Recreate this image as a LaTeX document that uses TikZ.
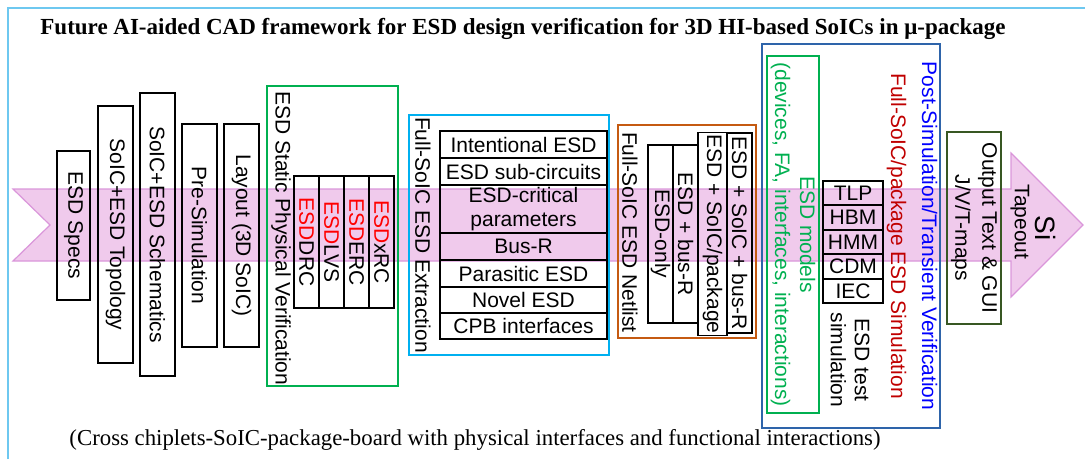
\documentclass[tikz,border=0pt]{standalone}
\usepackage{fontspec}
\setmainfont{Liberation Serif}
\newfontfamily\arialfont{Liberation Sans}
\definecolor{esd_frame}{RGB}{110, 200, 240}
\definecolor{esd_green}{RGB}{0, 176, 80}
\definecolor{esd_cyan}{RGB}{0, 176, 240}
\definecolor{esd_orange}{RGB}{197, 90, 17}
\definecolor{esd_navy}{RGB}{46, 100, 170}
\definecolor{esd_olive}{RGB}{56, 87, 35}
\definecolor{esd_red}{RGB}{255, 0, 0}
\definecolor{esd_dred}{RGB}{192, 0, 0}
\definecolor{esd_blue}{RGB}{0, 0, 255}
\definecolor{esd_pink}{RGB}{240, 202, 236}
\definecolor{esd_pinkline}{RGB}{218, 150, 218}
\usepackage{tikz}
\usetikzlibrary{positioning}

\begin{document}
\begin{tikzpicture}[x=1pt, y=-1pt,
            font=\arialfont\fontsize{21}{24}\selectfont,
            vbox/.style={draw, line width=1.3pt, rotate=-90, inner sep=0pt, align=center},
            hbox/.style={draw, line width=1.3pt, inner sep=0pt, align=center},
            cont/.style={draw, line width=2pt, rotate=-90, inner sep=0pt},
            vtext/.style={rotate=-90, inner sep=0pt, align=center},
            band/.style={fill=esd_pink, draw=esd_pinkline, line width=1.2pt}]
  \useasboundingbox (0,0) rectangle (1085,459);
  \draw[esd_frame, line width=2pt] (8,459) -- (8,8) -- (1085,8);
  \node[font=\rmfamily\bfseries\fontsize{23}{26}\selectfont] (title)
    at (523,29) {Future AI-aided CAD framework for ESD design verification for 3D HI-based SoICs in μ-package};

  % flow band
  \draw[band] (13,189) -- (1011,189) -- (1011,153) -- (1083,225)
    -- (1011,297) -- (1011,261) -- (13,261) -- (50,225) -- cycle;

  % design entry
  \node[vbox, minimum width=149, minimum height=33] (specs) at (73.5,225.5) {ESD Specs};
  \node[vbox, minimum width=257, minimum height=35] (topo) at (115.5,234.5) {SoIC+ESD Topology};
  \node[vbox, minimum width=283, minimum height=35] (schem) at (157.5,234.5) {SoIC+ESD Schematics};
  \node[vbox, minimum width=223, minimum height=35] (presim) at (199.5,235.5) {Pre-Simulation};
  \node[vbox, minimum width=223, minimum height=35] (layout) at (241.5,235.5) {Layout (3D SoIC)};

  % static physical verification
  \node[cont, draw=esd_green, minimum width=300, minimum height=131] (spv) at (332.5,236) {};
  \node[vtext, anchor=west] (spvt) at (281,91) {ESD Static Physical Verification};
  \node[vbox, minimum width=132, minimum height=25] (drc) at (306.5,242) {\textcolor{esd_red}{ESD}DRC};
  \node[vbox, minimum width=132, minimum height=25] (lvs) at (331.5,242) {\textcolor{esd_red}{ESD}LVS};
  \node[vbox, minimum width=132, minimum height=25] (erc) at (356.5,242) {\textcolor{esd_red}{ESD}ERC};
  \node[vbox, minimum width=132, minimum height=25] (xrc) at (381.5,242) {\textcolor{esd_red}{ESD}xRC};

  % extraction
  \node[cont, draw=esd_cyan, minimum width=240, minimum height=200] (ext) at (509,235) {};
  \node[vtext] (extt) at (423,235) {Full-SoIC ESD Extraction};
  \node[hbox, minimum width=167, minimum height=27] (intent) at (523.5,144.5) {Intentional ESD};
  \node[hbox, minimum width=167, minimum height=27] (subckt) at (523.5,171.5) {ESD sub-circuits};
  \node[hbox, minimum width=167, minimum height=48] (crit) at (523.5,209) {ESD-critical\\parameters};
  \node[hbox, minimum width=167, minimum height=27] (busr) at (523.5,246.5) {Bus-R};
  \node[hbox, minimum width=167, minimum height=27] (paras) at (523.5,273.5) {Parasitic ESD};
  \node[hbox, minimum width=167, minimum height=26] (novel) at (523.5,300) {Novel ESD};
  \node[hbox, minimum width=167, minimum height=26] (cpb) at (523.5,326) {CPB interfaces};

  % netlist
  \node[cont, draw=esd_orange, minimum width=213, minimum height=138] (net) at (687,231.5) {};
  \node[vtext] (nett) at (630,232.5) {Full-SoIC ESD Netlist};
  \node[vbox, minimum width=178, minimum height=25] (esdonly) at (660.5,234) {ESD-only};
  \node[vbox, minimum width=178, minimum height=25] (nbusr) at (685.5,234) {ESD + bus-R};
  \node[vbox, minimum width=203, minimum height=29] (soicpkg) at (712.5,234) {ESD + SoIC/package};
  \node[vbox, minimum width=200, minimum height=25] (soicbusr) at (739.5,233) {ESD + SoIC + bus-R};

  % post-simulation
  \node[cont, draw=esd_navy, minimum width=384, minimum height=178] (post) at (851,236) {};
  \node[vbox, draw=esd_green, line width=1.6pt, text=esd_green, minimum width=357, minimum height=52]
    (models) at (793,234.5) {ESD models\\[1pt](devices, FA, interfaces, interactions)};
  \node[vtext] (postt) at (912,236)
    {\textcolor{esd_blue}{Post-Simulation/Transient Verification}\\[7pt]\textcolor{esd_dred}{Full-SoIC/package ESD Simulation}};
  \node[hbox, minimum width=60, minimum height=24] (tlp) at (853,193) {TLP};
  \node[hbox, minimum width=60, minimum height=25] (hbm) at (853,217.5) {HBM};
  \node[hbox, minimum width=60, minimum height=24] (hmm) at (853,242) {HMM};
  \node[hbox, minimum width=60, minimum height=25] (cdm) at (853,266.5) {CDM};
  \node[hbox, minimum width=60, minimum height=24] (iec) at (853,291) {IEC};
  \node[vtext] (testt) at (850,360) {ESD test\\simulation};

  % output
  \node[vbox, draw=esd_olive, line width=1.6pt, minimum width=192, minimum height=54]
    (out) at (974,228) {Output Text \& GUI\\[3pt]J/V/T-maps};
  \node[vtext, font=\arialfont\fontsize{28}{30}\selectfont] (si) at (1045,228) {Si};
  \node[vtext] (tape) at (1020,222) {Tapeout};

  \node[font=\rmfamily\fontsize{22.8}{26}\selectfont] (note)
    at (475,440) {(Cross chiplets-SoIC-package-board with physical interfaces and functional interactions)};
\end{tikzpicture}
\end{document}
